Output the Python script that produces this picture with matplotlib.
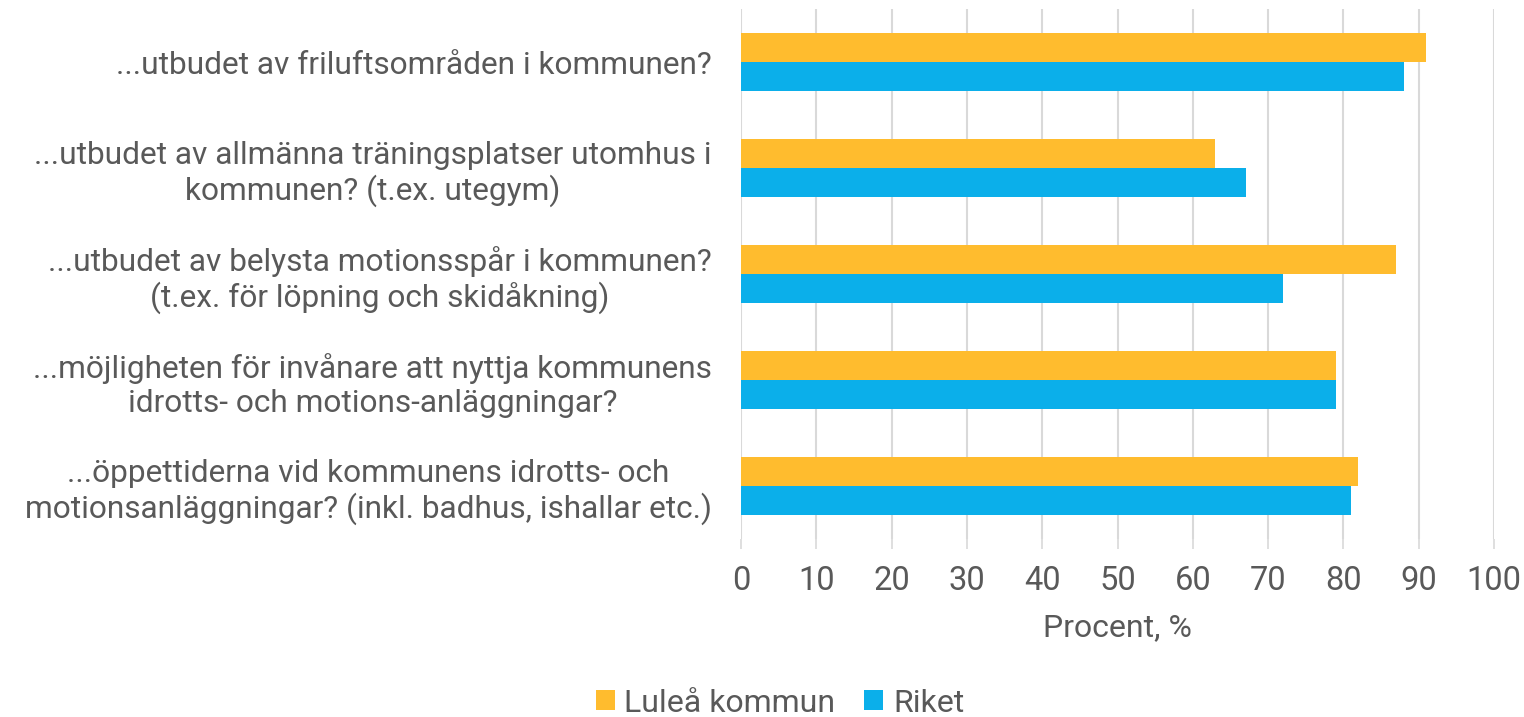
import matplotlib
matplotlib.use("Agg")
import matplotlib.pyplot as plt
import numpy as np

categories = [
    "...utbudet av friluftsområden i kommunen?",
    "...utbudet av allmänna träningsplatser utomhus i\nkommunen? (t.ex. utegym)",
    "...utbudet av belysta motionsspår i kommunen?\n(t.ex. för löpning och skidåkning)",
    "...möjligheten för invånare att nyttja kommunens\nidrotts- och motions-anläggningar?",
    "...öppettiderna vid kommunens idrotts- och\nmotionsanläggningar? (inkl. badhus, ishallar etc.)",
]
lulea = [91, 63, 87, 79, 82]
riket = [88, 67, 72, 79, 81]
series_names = ["Luleå kommun", "Riket"]
xticks = [0, 10, 20, 30, 40, 50, 60, 70, 80, 90, 100]

plt.rcParams['font.family'] = ['Roboto', 'DejaVu Sans']
text_color = "#595959"
c_orange = "#FFBC2E"
c_blue = "#0BAFEA"

fig = plt.figure(figsize=(15.24, 7.17), dpi=100)
ax = fig.add_axes([741/1524, 1-539/717, (1494-741)/1524, (539-9)/717])

y = np.arange(len(categories))
h = 0.275
ax.barh(y - h/2, lulea, height=h, color=c_orange, label=series_names[0], zorder=3)
ax.barh(y + h/2, riket, height=h, color=c_blue, label=series_names[1], zorder=3)

ax.set_ylim(len(categories) - 0.5, -0.5)
ax.set_xlim(0, 100)
ax.set_xticks(xticks)
ax.set_yticks(y)
ax.set_yticklabels(categories, fontsize=22.8, color=text_color, linespacing=1.2)
for lab in ax.get_yticklabels():
    lab.set_multialignment('center')
ax.tick_params(axis='y', length=0, pad=21)
ax.tick_params(axis='x', length=7.5, width=1.2, color="#D9D9D9", labelsize=23.5,
               labelcolor=text_color, pad=11)
ax.grid(axis='x', color="#D9D9D9", linewidth=1.5, zorder=0)
for s in ax.spines.values():
    s.set_visible(False)
ax.set_xlabel("Procent, %", fontsize=23, color=text_color, labelpad=12)

leg = fig.legend(loc='center', bbox_to_anchor=(780/1524, 1-703/717), ncol=2,
                 frameon=False, fontsize=23, handlelength=0.6, handleheight=0.6,
                 handletextpad=0.3, columnspacing=0.9)
for t in leg.get_texts():
    t.set_color(text_color)

fig.savefig("out.png", dpi=100)
